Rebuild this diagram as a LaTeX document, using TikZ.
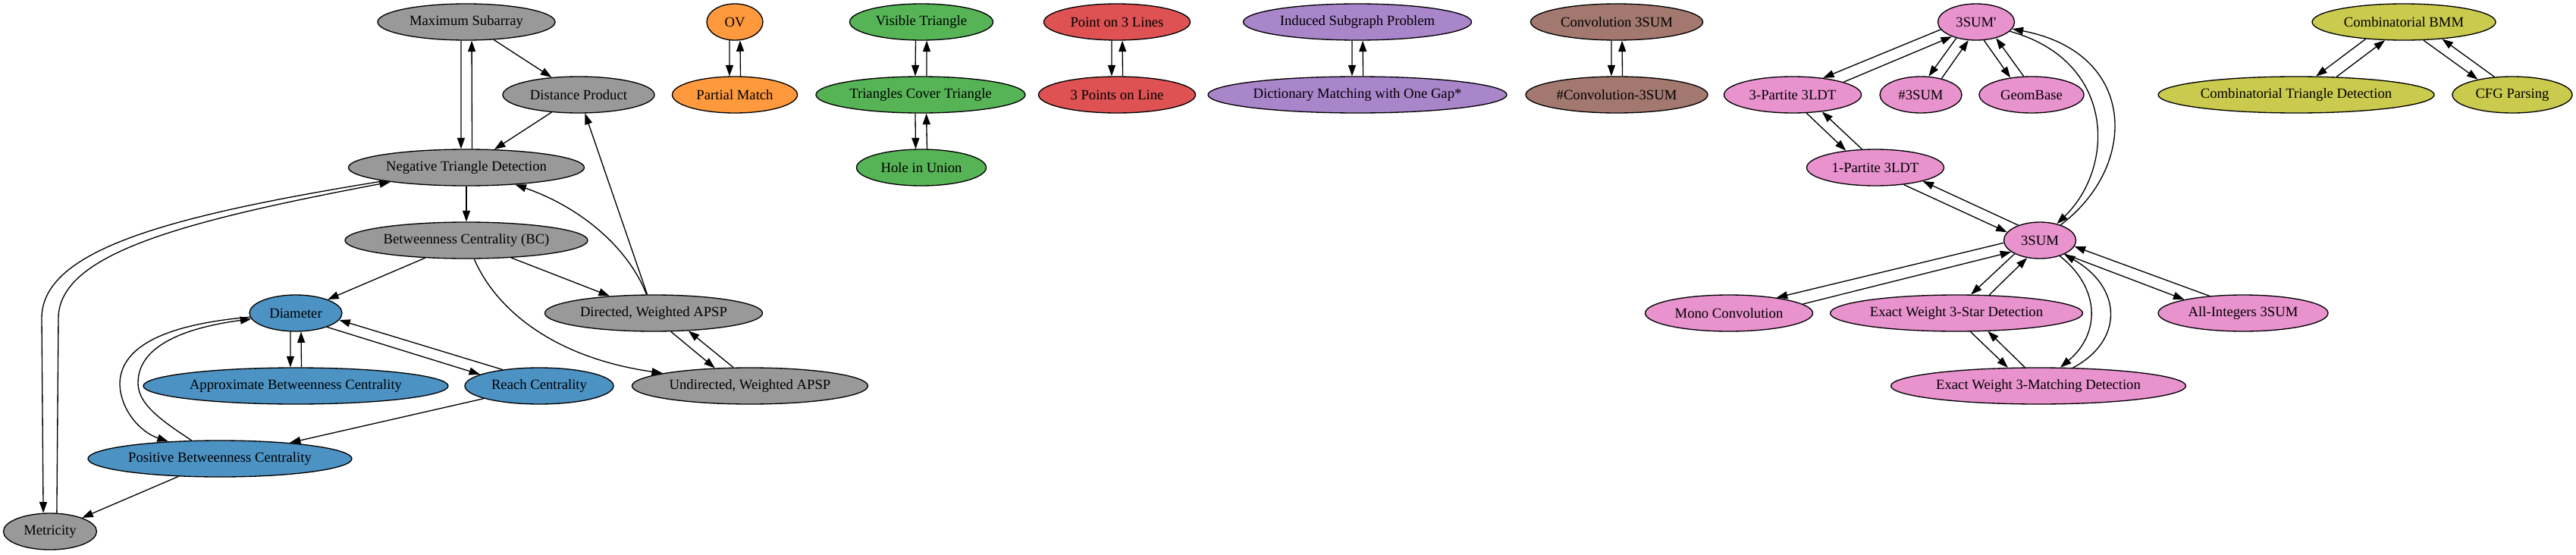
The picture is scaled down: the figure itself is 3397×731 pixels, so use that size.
\documentclass[tikz,border=0pt]{standalone}
\usepackage{fontspec}
\setmainfont{Liberation Serif}
\usetikzlibrary{arrows.meta,shapes.geometric}
\definecolor{cgray}{HTML}{999999}
\definecolor{cblue}{HTML}{4C92C3}
\definecolor{corange}{HTML}{FF993E}
\definecolor{cgreen}{HTML}{56B356}
\definecolor{cred}{HTML}{DE5253}
\definecolor{cpurple}{HTML}{A985CA}
\definecolor{cbrown}{HTML}{A3786F}
\definecolor{cpink}{HTML}{E892CE}
\definecolor{colive}{HTML}{C9CA4E}
\def\poff{7.5}
\makeatletter
\newcommand\pe[3][]{%
  \begingroup
  \pgfpointdiff{\pgfpointanchor{#2}{center}}{\pgfpointanchor{#3}{center}}%
  \pgfmathsetmacro\pth{atan2(\the\pgf@y,\the\pgf@x)}%
  \pgfmathsetmacro\pthb{\pth+180}%
  \pgfpointdiff{\pgfpointanchor{#2}{center}}{\pgfpointanchor{#2}{\pth}}%
  \pgfmathsetmacro\pra{veclen(\the\pgf@x,\the\pgf@y)}%
  \pgfpointdiff{\pgfpointanchor{#3}{center}}{\pgfpointanchor{#3}{\pthb}}%
  \pgfmathsetmacro\prb{veclen(\the\pgf@x,\the\pgf@y)}%
  \pgfmathsetmacro\pa{\pth-atan(\poff/\pra)}%
  \pgfmathsetmacro\pb{\pthb+atan(\poff/\prb)}%
  \draw[arr,#1] (#2.\pa) -- (#3.\pb);%
  \endgroup}
\makeatother
\begin{document}
\begin{tikzpicture}[x=1pt,y=-1pt,
  nd/.style={ellipse,draw=black,line width=1.33pt,minimum height=48pt,inner sep=0pt,
    font=\fontsize{18.67}{22}\selectfont},
  arr/.style={draw=black,line width=1.33pt,-{Triangle[length=14.5pt,width=10pt]}},
  gr/.style={nd,fill=cgray},
  bl/.style={nd,fill=cblue},
  orn/.style={nd,fill=corange},
  grn/.style={nd,fill=cgreen},
  rd/.style={nd,fill=cred},
  pur/.style={nd,fill=cpurple},
  brn/.style={nd,fill=cbrown},
  pnk/.style={nd,fill=cpink},
  olv/.style={nd,fill=colive}]
\useasboundingbox (0,0) rectangle (3397,731);
% gray
\node[gr,minimum width=234pt] (maxsub) at (615,29) {Maximum Subarray};
\node[gr,minimum width=200pt] (distprod) at (763,125) {Distance Product};
\node[gr,minimum width=311pt] (negtri) at (615,221) {Negative Triangle Detection};
\node[gr,minimum width=320pt] (bc) at (615,317) {Betweenness Centrality (BC)};
\node[gr,minimum width=287pt] (dirapsp) at (862,413) {Directed, Weighted APSP};
\node[gr,minimum width=311pt] (undapsp) at (989,509) {Undirected, Weighted APSP};
\node[gr,minimum width=123pt] (metricity) at (66,701) {Metricity};
% blue
\node[bl,minimum width=122pt] (diameter) at (390,413) {Diameter};
\node[bl,minimum width=402pt] (approx) at (390,509) {Approximate Betweenness Centrality};
\node[bl,minimum width=196pt] (reach) at (711,509) {Reach Centrality};
\node[bl,minimum width=348pt] (posbc) at (290,605) {Positive Betweenness Centrality};
% orange
\node[orn,minimum width=74pt] (ov) at (969,29) {OV};
\node[orn,minimum width=165pt] (pm) at (969,125) {Partial Match};
% green
\node[grn,minimum width=189pt] (vis) at (1215,29) {Visible Triangle};
\node[grn,minimum width=276pt] (cover) at (1214,125) {Triangles Cover Triangle};
\node[grn,minimum width=171pt] (hole) at (1215,221) {Hole in Union};
% red
\node[rd,minimum width=193pt] (ptl) at (1473,29) {Point on 3 Lines};
\node[rd,minimum width=207pt] (pts) at (1473,125) {3 Points on Line};
% purple
\node[pur,minimum width=301pt] (induced) at (1790,29) {Induced Subgraph Problem};
\node[pur,minimum width=394pt] (dict) at (1790,125) {Dictionary Matching with One Gap*};
% brown
\node[brn,minimum width=227pt] (conv) at (2132,29) {Convolution 3SUM};
\node[brn,minimum width=240pt] (nconv) at (2132,125) {\#Convolution-3SUM};
% pink
\node[pnk,minimum width=101pt] (s3p) at (2606,29) {3SUM\textquotesingle};
\node[pnk,minimum width=181pt] (part3) at (2364,125) {3-Partite 3LDT};
\node[pnk,minimum width=108pt] (n3sum) at (2533,125) {\#3SUM};
\node[pnk,minimum width=138pt] (geom) at (2679,125) {GeomBase};
\node[pnk,minimum width=181pt] (part1) at (2473,221) {1-Partite 3LDT};
\node[pnk,minimum width=95pt] (s3) at (2690,317) {3SUM};
\node[pnk,minimum width=221pt] (mono) at (2280,413) {Mono Convolution};
\node[pnk,minimum width=333pt] (star) at (2580,413) {Exact Weight 3-Star Detection};
\node[pnk,minimum width=389pt] (match) at (2688,509) {Exact Weight 3-Matching Detection};
\node[pnk,minimum width=224pt] (allint) at (2958,413) {All-Integers 3SUM};
% olive
\node[olv,minimum width=242pt] (bmm) at (3170,29) {Combinatorial BMM};
\node[olv,minimum width=364pt] (tridet) at (3028,125) {Combinatorial Triangle Detection};
\node[olv,minimum width=158pt] (cfg) at (3313,125) {CFG Parsing};
% gray edges
\draw[arr] (maxsub) -- (distprod);
\draw[arr] (distprod) -- (negtri);
\pe{maxsub}{negtri}\pe{negtri}{maxsub}
\draw[arr] (negtri) -- (bc);
\draw[arr] (bc) -- (diameter);
\draw[arr] (bc) -- (dirapsp);
\draw[arr] (bc) .. controls (650,400) and (720,470) .. (undapsp);
\draw[arr] (dirapsp) .. controls (830,330) and (770,275) .. (negtri);
\draw[arr] (dirapsp) -- (distprod);
\pe{dirapsp}{undapsp}\pe{undapsp}{dirapsp}
\draw[arr] (negtri) .. controls (220,285) and (55,330) .. (55,420) -- (metricity.110);
\draw[arr] (metricity.70) -- (77,420) .. controls (77,335) and (240,292) .. (negtri);
\draw[arr] (posbc) -- (metricity);
% blue edges
\pe{diameter}{approx}\pe{approx}{diameter}
\pe{diameter}{reach}\pe{reach}{diameter}
\draw[arr] (diameter) .. controls (250,425) and (160,445) .. (158,505) .. controls (158,540) and (185,570) .. (posbc);
\draw[arr] (posbc) .. controls (205,550) and (182,530) .. (182,505) .. controls (182,450) and (260,430) .. (diameter);
\draw[arr] (reach) -- (posbc);
% orange, green, red, purple, brown
\pe{ov}{pm}\pe{pm}{ov}
\pe{vis}{cover}\pe{cover}{vis}
\pe{cover}{hole}\pe{hole}{cover}
\pe{ptl}{pts}\pe{pts}{ptl}
\pe{induced}{dict}\pe{dict}{induced}
\pe{conv}{nconv}\pe{nconv}{conv}
% pink
\pe{s3p}{part3}\pe{part3}{s3p}
\pe{s3p}{n3sum}\pe{n3sum}{s3p}
\pe{s3p}{geom}\pe{geom}{s3p}
\pe{part3}{part1}\pe{part1}{part3}
\pe{part1}{s3}\pe{s3}{part1}
\draw[arr] (s3p) .. controls (2790,80) and (2790,220) .. (s3);
\draw[arr] (s3) .. controls (2820,220) and (2820,70) .. (s3p);
\pe{s3}{mono}\pe{mono}{s3}
\pe{s3}{star}\pe{star}{s3}
\pe{s3}{allint}\pe{allint}{s3}
\pe{star}{match}\pe{match}{star}
\draw[arr] (s3) .. controls (2770,380) and (2770,440) .. (match);
\draw[arr] (match) .. controls (2800,450) and (2800,380) .. (s3);
% olive
\pe{bmm}{tridet}\pe{tridet}{bmm}
\pe{bmm}{cfg}\pe{cfg}{bmm}
\end{tikzpicture}
\end{document}
